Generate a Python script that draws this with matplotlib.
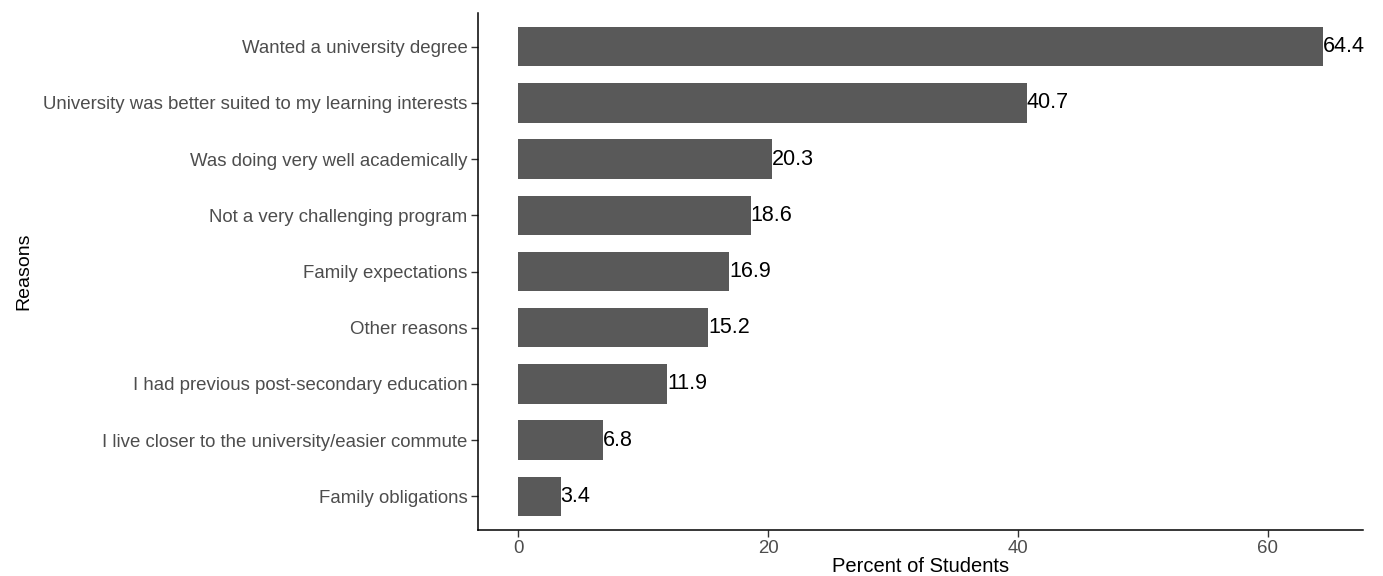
import matplotlib
matplotlib.use("Agg")
import matplotlib.pyplot as plt

reasons = [
    "Wanted a university degree",
    "University was better suited to my learning interests",
    "Was doing very well academically",
    "Not a very challenging program",
    "Family expectations",
    "Other reasons",
    "I had previous post-secondary education",
    "I live closer to the university/easier commute",
    "Family obligations",
]
percent = [64.4, 40.7, 20.3, 18.6, 16.9, 15.2, 11.9, 6.8, 3.4]
xticks = [0, 20, 40, 60]

plt.rcParams['font.family'] = ['Liberation Sans', 'DejaVu Sans']

W, H = 1383, 576
fig = plt.figure(figsize=(W / 100, H / 100), dpi=100)
ax = fig.add_axes([478 / W, (H - 530) / H, (1363 - 478) / W, (530 - 13) / H])

n = len(reasons)
ypos = list(range(n, 0, -1))
ax.barh(ypos, percent, height=0.7, color="#595959")
for y, v in zip(ypos, percent):
    ax.text(v, y, f"{v:.1f}", ha="left", va="center", fontsize=15.5, color="black")

ax.set_yticks(ypos)
ax.set_yticklabels(reasons)
ax.set_xticks(xticks)
ax.set_xlim(-0.05 * max(percent), max(percent) * 1.05)
ax.set_ylim(0.4, n + 0.6)

for s in ["top", "right"]:
    ax.spines[s].set_visible(False)
for s in ["left", "bottom"]:
    ax.spines[s].set_linewidth(1.1)
    ax.spines[s].set_color("black")

ax.tick_params(axis="both", colors="#333333", length=5, width=1.0, labelsize=13.4,
               labelcolor="#4D4D4D", pad=2.5)
ax.set_xlabel("Percent of Students", fontsize=14.5, color="black", labelpad=0)
ax.set_ylabel("Reasons", fontsize=14, color="black", labelpad=8)

fig.savefig("out.png", dpi=100)
